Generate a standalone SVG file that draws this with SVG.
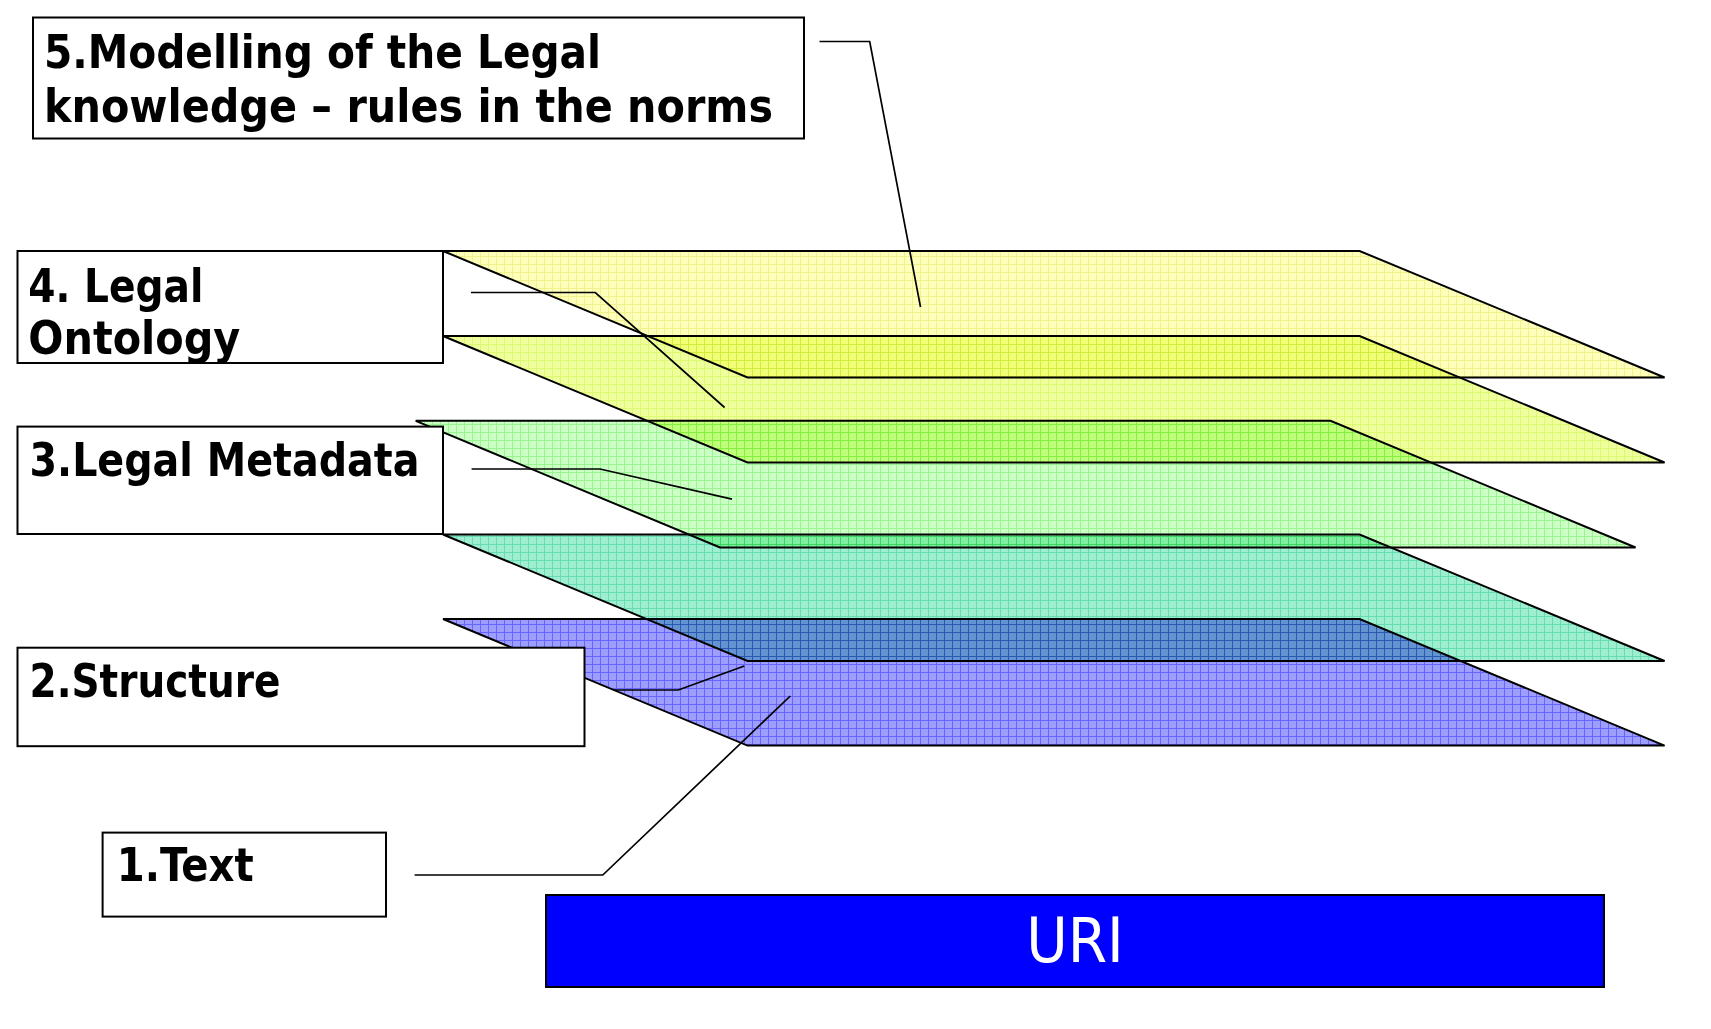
<svg xmlns="http://www.w3.org/2000/svg" width="1711" height="1029" viewBox="0 0 1711 1029">
<style>
.layer{stroke:#000;stroke-width:2;stroke-linejoin:miter;mix-blend-mode:multiply}
.box{fill:#fff;stroke:#000;stroke-width:2}
.lbl{font-family:"DejaVu Sans Condensed","DejaVu Sans",sans-serif;font-weight:bold;font-size:46px;fill:#000}
.conn{fill:none;stroke:#000;stroke-width:1.7}
.uri{font-family:"DejaVu Sans Condensed","DejaVu Sans",sans-serif;font-size:63px;fill:#fff}
</style>
<defs>
<pattern id="p5" width="8" height="8" patternUnits="userSpaceOnUse"><rect width="8" height="8" fill="#FFFFBC"/><path d="M0 0.5H8M0.5 0V8" stroke="#F2F28C" stroke-width="1"/></pattern>
<pattern id="p4" width="8" height="8" patternUnits="userSpaceOnUse"><rect width="8" height="8" fill="#F0FF9E"/><path d="M0 0.5H8M0.5 0V8" stroke="#DCFA70" stroke-width="1"/></pattern>
<pattern id="p3" width="8" height="8" patternUnits="userSpaceOnUse"><rect width="8" height="8" fill="#CCFFC4"/><path d="M0 0.5H8M0.5 0V8" stroke="#99F590" stroke-width="1"/></pattern>
<pattern id="p2" width="8" height="8" patternUnits="userSpaceOnUse"><rect width="8" height="8" fill="#A0EED0"/><path d="M0 0.5H8M0.5 0V8" stroke="#66DDB4" stroke-width="1"/></pattern>
<pattern id="p1" width="8" height="8" patternUnits="userSpaceOnUse"><rect width="8" height="8" fill="#9E9EFF"/><path d="M0 0.5H8M0.5 0V8" stroke="#6666FF" stroke-width="1"/></pattern>
</defs>
<rect width="1711" height="1029" fill="#fff"/>
<g id="layers">
<polygon id="layer1" class="layer" fill="url(#p1)" points="443,619 1359.6,619 1664.6,745.6 747.5,745.6"/>
<polygon id="layer2" class="layer" fill="url(#p2)" points="443,534.5 1359.6,534.5 1664.6,661 747.5,661"/>
<polygon id="layer3" class="layer" fill="url(#p3)" points="415.7,420.8 1330.5,420.8 1635.6,547.5 720,547.5"/>
<polygon id="layer4" class="layer" fill="url(#p4)" points="443,336 1359.6,336 1664.6,462.5 747.5,462.5"/>
<polygon id="layer5" class="layer" fill="url(#p5)" points="443,251 1359.6,251 1664.6,377.5 747.5,377.5"/>
</g>
<g id="connectors">
<polyline class="conn" points="819.5,41.5 869.7,41.5 920.5,307"/>
<polyline class="conn" points="471,292.5 595.3,292.5 724.6,407.5"/>
<polyline class="conn" points="471.6,469 600,469 732,499.2"/>
<polyline class="conn" points="613.3,690 678.3,690 744.3,666"/>
<polyline class="conn" points="414.6,875 602.8,875 790.3,696"/>
</g>
<g id="node5">
<rect class="box" x="33" y="17.5" width="771" height="121"/>
<text class="lbl" x="44" y="68" textLength="557" lengthAdjust="spacingAndGlyphs">5.Modelling of the Legal</text>
<text class="lbl" x="44" y="121.5" textLength="729" lengthAdjust="spacingAndGlyphs">knowledge – rules in the norms</text>
</g>
<g id="node4">
<rect class="box" x="17.5" y="251" width="425.5" height="112"/>
<text class="lbl" x="28.3" y="301.7" textLength="175" lengthAdjust="spacingAndGlyphs">4. Legal</text>
<text class="lbl" x="28.3" y="354" textLength="212" lengthAdjust="spacingAndGlyphs">Ontology</text>
</g>
<g id="node3">
<rect class="box" x="17.5" y="426.6" width="425.5" height="107.4"/>
<text class="lbl" x="29.5" y="475.5" textLength="390" lengthAdjust="spacingAndGlyphs">3.Legal Metadata</text>
</g>
<g id="node2">
<rect class="box" x="17.5" y="647.7" width="567" height="98.5"/>
<text class="lbl" x="29.5" y="696.5" textLength="251" lengthAdjust="spacingAndGlyphs">2.Structure</text>
</g>
<g id="node1">
<rect class="box" x="102.6" y="832.6" width="283.4" height="84"/>
<text class="lbl" x="116.7" y="880.5" textLength="137" lengthAdjust="spacingAndGlyphs">1.Text</text>
</g>
<g id="uri">
<rect x="546" y="895" width="1058" height="92" fill="#0000FF" stroke="#000" stroke-width="2"/>
<text class="uri" x="1075" y="962" text-anchor="middle">URI</text>
</g>
</svg>
